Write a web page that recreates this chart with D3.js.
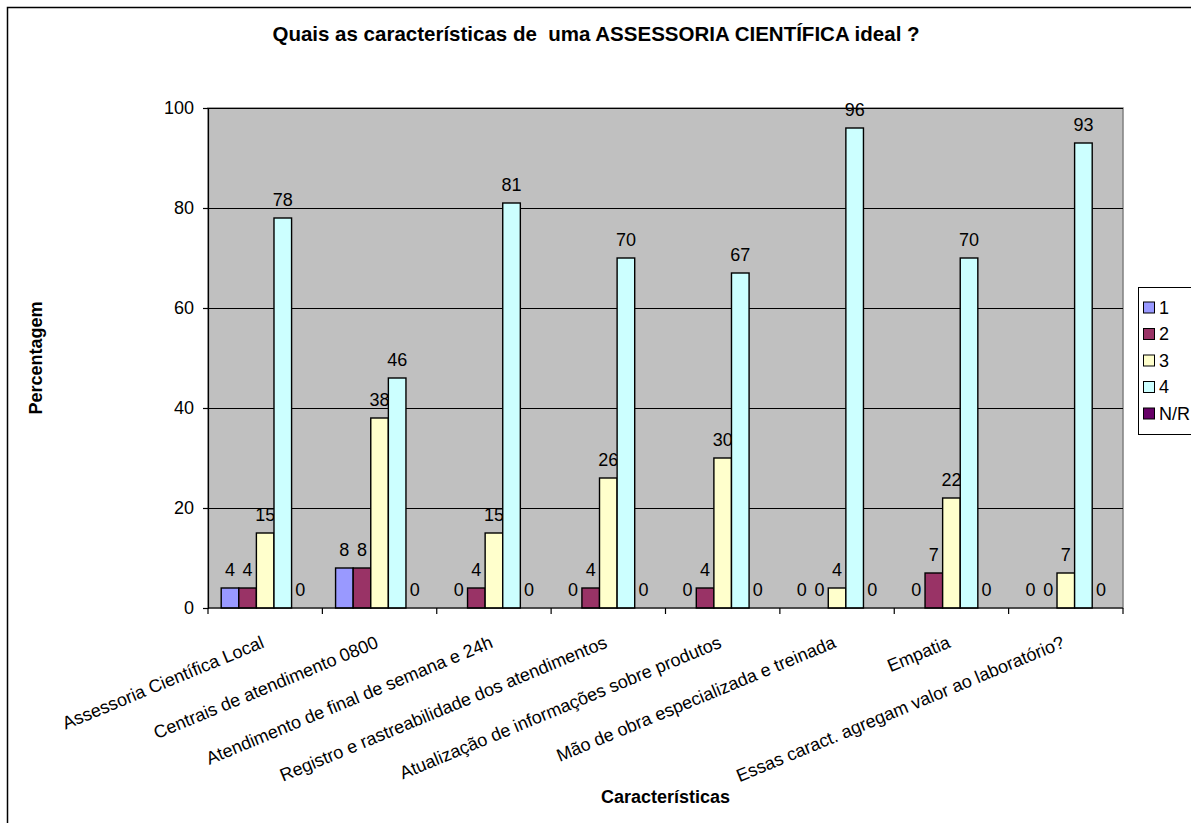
<!DOCTYPE html>
<html>
<head>
<meta charset="utf-8">
<script src="https://cdn.jsdelivr.net/npm/d3@7"></script>
<style>
  html, body { margin: 0; padding: 0; background: #ffffff; }
  svg { display: block; font-family: "Liberation Sans", Arial, sans-serif; }
</style>
</head>
<body>
<svg id="chart" width="1191" height="823"></svg>
<script>
// Chart data
const categories = [
  "Assessoria Científica Local",
  "Centrais de atendimento 0800",
  "Atendimento de final de semana e 24h",
  "Registro e rastreabilidade dos atendimentos",
  "Atualização de informações sobre produtos",
  "Mão de obra especializada e treinada",
  "Empatia",
  "Essas caract. agregam valor ao laboratório?"
];
const seriesNames = ["1", "2", "3", "4", "N/R"];
const values1  = [4, 8, 0, 0, 0, 0, 0, 0];
const values2  = [4, 8, 4, 4, 4, 0, 7, 0];
const values3  = [15, 38, 15, 26, 30, 4, 22, 7];
const values4  = [78, 46, 81, 70, 67, 96, 70, 93];
const valuesNR = [0, 0, 0, 0, 0, 0, 0, 0];
const yTicks = [0, 20, 40, 60, 80, 100];
const seriesColors = ["#9999FF", "#993366", "#FFFFCC", "#CCFFFF", "#660066"];

const seriesValues = [values1, values2, values3, values4, valuesNR];

const svg = d3.select("#chart");
const plot = { left: 208, right: 1123, top: 108, bottom: 608 };
const labelFont = 18;

// Outer chart frame
svg.append("rect")
  .attr("x", 7.5).attr("y", 7.5)
  .attr("width", 1250).attr("height", 900)
  .attr("fill", "#ffffff")
  .attr("stroke", "#000000").attr("stroke-width", 1.5);

// Scales
const x = d3.scaleBand().domain(categories).range([plot.left, plot.right]).padding(0);
const xs = d3.scaleBand().domain(seriesNames).range([0, x.bandwidth()])
  .paddingInner(0).paddingOuter(0.75);
const y = d3.scaleLinear().domain([0, 100]).range([plot.bottom, plot.top]);

// Plot area
svg.append("rect")
  .attr("x", plot.left).attr("y", plot.top)
  .attr("width", plot.right - plot.left).attr("height", plot.bottom - plot.top)
  .attr("fill", "#C0C0C0")
  .attr("stroke", "#808080").attr("stroke-width", 1.5);

// Horizontal gridlines
svg.append("g").selectAll("line")
  .data(yTicks.filter(d => d > 0))
  .join("line")
  .attr("x1", plot.left).attr("x2", plot.right)
  .attr("y1", d => Math.round(y(d)) + 0.5).attr("y2", d => Math.round(y(d)) + 0.5)
  .attr("stroke", "#000000").attr("stroke-width", 1);

// Bars and value labels
const groups = svg.append("g").selectAll("g")
  .data(categories)
  .join("g")
  .attr("transform", d => `translate(${x(d)},0)`);

groups.each(function (cat, ci) {
  const g = d3.select(this);
  seriesNames.forEach((s, si) => {
    const v = seriesValues[si][ci];
    if (v > 0) {
      g.append("rect")
        .attr("x", xs(s))
        .attr("y", y(v))
        .attr("width", xs.bandwidth())
        .attr("height", y(0) - y(v))
        .attr("fill", seriesColors[si])
        .attr("stroke", "#000000").attr("stroke-width", 1.4);
    }
    g.append("text")
      .attr("x", xs(s) + xs.bandwidth() / 2)
      .attr("y", y(v) - 12)
      .attr("text-anchor", "middle")
      .attr("font-size", labelFont)
      .attr("fill", "#000000")
      .text(v);
  });
});

// Y axis
const yAxis = svg.append("g")
  .attr("transform", `translate(${plot.left},0)`)
  .call(d3.axisLeft(y).tickValues(yTicks).tickSize(5).tickPadding(9));
yAxis.select(".domain").attr("stroke", "#000000").attr("stroke-width", 1.2);
yAxis.selectAll(".tick line").attr("stroke", "#000000").attr("stroke-width", 1.2);
yAxis.selectAll(".tick text")
  .attr("font-size", labelFont)
  .attr("font-family", "Liberation Sans, Arial, sans-serif")
  .attr("fill", "#000000");

// X axis line and tick marks at category boundaries
const boundaries = categories.map(c => x(c)).concat([plot.right]);
svg.append("line")
  .attr("x1", plot.left).attr("x2", plot.right)
  .attr("y1", plot.bottom).attr("y2", plot.bottom)
  .attr("stroke", "#000000").attr("stroke-width", 1.2);
svg.append("g").selectAll("line")
  .data(boundaries)
  .join("line")
  .attr("x1", d => d).attr("x2", d => d)
  .attr("y1", plot.bottom).attr("y2", plot.bottom + 6)
  .attr("stroke", "#000000").attr("stroke-width", 1.2);

// Category labels (rotated)
svg.append("g").selectAll("text")
  .data(categories)
  .join("text")
  .attr("transform", d => `translate(${x(d) + x.bandwidth() / 2},647) rotate(-22.5)`)
  .attr("text-anchor", "end")
  .attr("font-size", labelFont)
  .attr("fill", "#000000")
  .text(d => d);

// Title
svg.append("text")
  .attr("x", 596).attr("y", 41)
  .attr("text-anchor", "middle")
  .attr("font-size", 20.5)
  .attr("font-weight", "bold")
  .style("white-space", "pre")
  .text("Quais as características de  uma ASSESSORIA CIENTÍFICA ideal ?");

// Axis titles
svg.append("text")
  .attr("transform", `translate(42,358) rotate(-90)`)
  .attr("text-anchor", "middle")
  .attr("font-size", labelFont)
  .attr("font-weight", "bold")
  .text("Percentagem");

svg.append("text")
  .attr("x", (plot.left + plot.right) / 2).attr("y", 803)
  .attr("text-anchor", "middle")
  .attr("font-size", labelFont)
  .attr("font-weight", "bold")
  .text("Características");

// Legend
const legend = svg.append("g");
legend.append("rect")
  .attr("x", 1138.5).attr("y", 287.5)
  .attr("width", 100).attr("height", 147)
  .attr("fill", "#ffffff")
  .attr("stroke", "#000000").attr("stroke-width", 1);
seriesNames.forEach((s, i) => {
  const cy = 307.5 + i * 26.5;
  legend.append("rect")
    .attr("x", 1143.5).attr("y", cy - 5.5)
    .attr("width", 11).attr("height", 11)
    .attr("fill", seriesColors[i])
    .attr("stroke", "#000000").attr("stroke-width", 1);
  legend.append("text")
    .attr("x", 1159).attr("y", cy)
    .attr("dominant-baseline", "central")
    .attr("font-size", labelFont)
    .text(s);
});
</script>
</body>
</html>
